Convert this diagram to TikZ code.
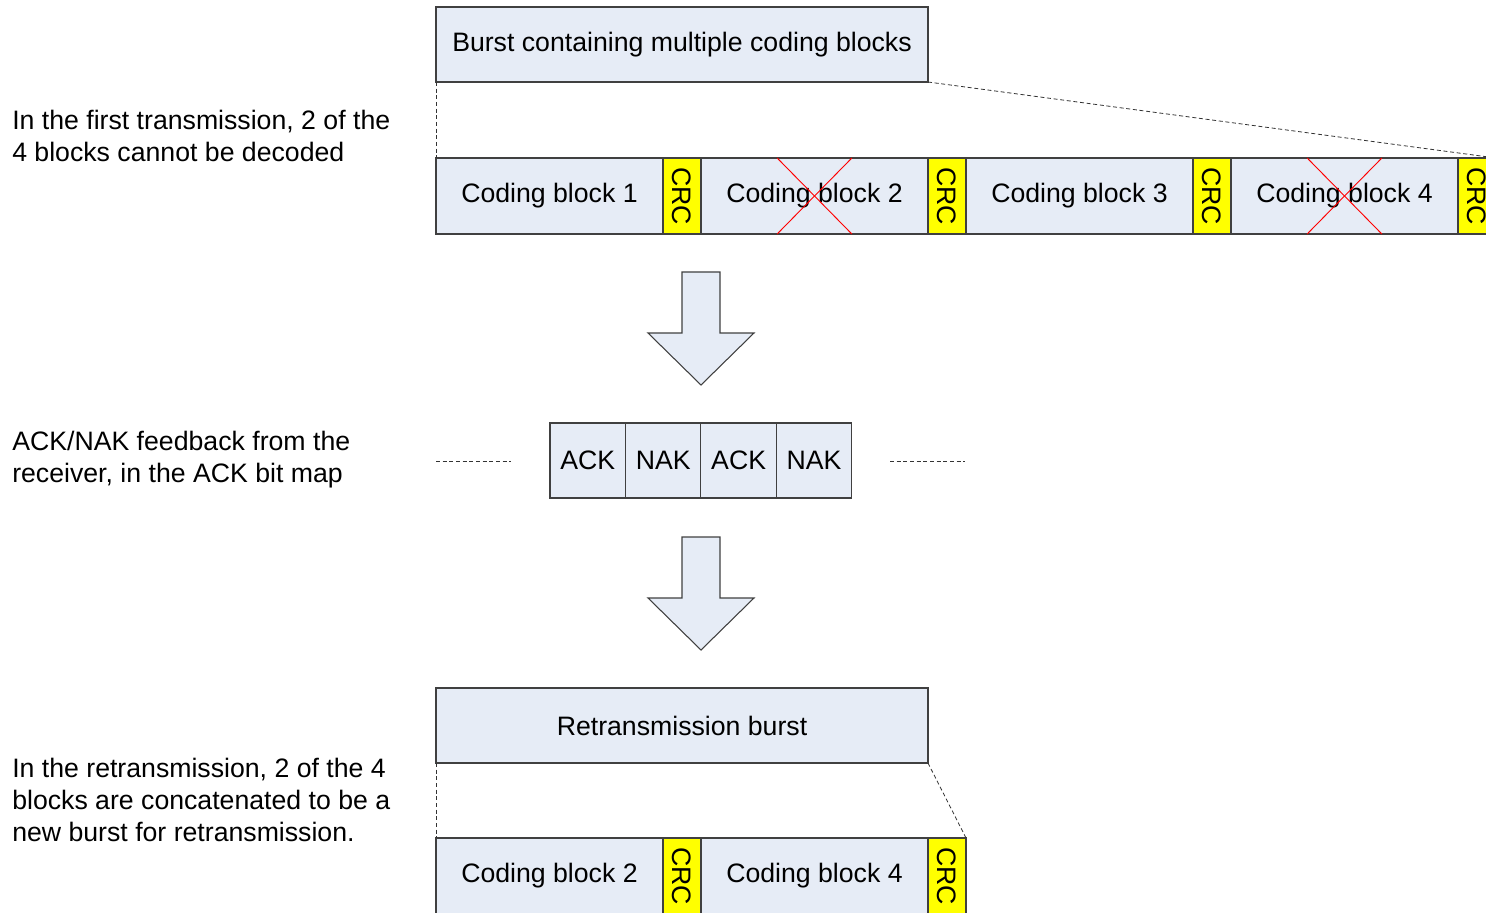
\documentclass[tikz,border=0pt]{standalone}
\usepackage{graphicx}
\usepackage{fontspec}
\setmainfont{Liberation Sans}
\usetikzlibrary{positioning, calc}
\definecolor{blockfill}{RGB}{230,236,246}
\definecolor{crcfill}{RGB}{255,255,0}

\begin{document}
\begin{tikzpicture}[x=0.75pt, y=-0.75pt,
    font=\fontsize{20}{24}\selectfont,
    boxnode/.style={rectangle, draw=black!75, fill=blockfill, line width=0.8pt, inner sep=0pt, outer sep=0pt},
    burstnode/.style={boxnode, minimum width=369pt, minimum height=56.25pt},
    blocknode/.style={boxnode, minimum width=170.25pt, minimum height=57pt},
    crcnode/.style={boxnode, fill=crcfill, minimum width=28.5pt, minimum height=57pt},
    acknode/.style={boxnode, minimum width=56.6pt, minimum height=56.25pt},
    guideline/.style={draw=black!80, line width=0.6pt, dash pattern=on 3pt off 2pt},
    crossline/.style={draw=red, line width=0.7pt},
    bigarrow/.style={draw=black!75, fill=blockfill, line width=0.8pt},
    notenode/.style={anchor=west, align=left, inner sep=0pt}
]
\useasboundingbox (0,0) rectangle (1486,913);

% first transmission
\node[burstnode] (burst) at (682,44.5) {Burst containing multiple coding blocks};
\node[blocknode] (blk1) at (549.5,196) {Coding block 1};
\node[crcnode, right=0pt of blk1] (crc1) {\rotatebox{-90}{CRC}};
\node[blocknode, right=0pt of crc1] (blk2) {Coding block 2};
\node[crcnode, right=0pt of blk2] (crc2) {\rotatebox{-90}{CRC}};
\node[blocknode, right=0pt of crc2] (blk3) {Coding block 3};
\node[crcnode, right=0pt of blk3] (crc3) {\rotatebox{-90}{CRC}};
\node[blocknode, right=0pt of crc3] (blk4) {Coding block 4};
\node[crcnode, right=0pt of blk4] (crc4) {\rotatebox{-90}{CRC}};

\draw[guideline] (burst.south west) -- (blk1.north west);
\draw[guideline] (burst.south east) -- (crc4.north east);

\draw[crossline] ($(blk2.north)+(-28pt,0)$) -- ($(blk2.south)+(28pt,0)$);
\draw[crossline] ($(blk2.north)+(28pt,0)$) -- ($(blk2.south)+(-28pt,0)$);
\draw[crossline] ($(blk4.north)+(-28pt,0)$) -- ($(blk4.south)+(28pt,0)$);
\draw[crossline] ($(blk4.north)+(28pt,0)$) -- ($(blk4.south)+(-28pt,0)$);

\node[notenode] (note1) at (12,136) {In the first transmission, 2 of the\\4 blocks cannot be decoded};

% feedback
\draw[bigarrow] (682,272) -- (720,272) -- (720,333) -- (754,333) -- (701,385) -- (648,333) -- (682,333) -- cycle;

\node[acknode] (ack1) at (587.7,460.5) {ACK};
\node[acknode, right=0pt of ack1] (nak1) {NAK};
\node[acknode, right=0pt of nak1] (ack2) {ACK};
\node[acknode, right=0pt of ack2] (nak2) {NAK};

\coordinate (lefta) at (436,461);
\coordinate (leftb) at (511,461);
\coordinate (righta) at (890,461);
\coordinate (rightb) at (965,461);
\draw[guideline] (lefta) -- (leftb);
\draw[guideline] (righta) -- (rightb);

\node[notenode] (note2) at (12,460) {ACK/NAK feedback from the\\receiver, in the ACK bit map};

% retransmission
\draw[bigarrow] (682,537) -- (720,537) -- (720,598) -- (754,598) -- (701,650) -- (648,598) -- (682,598) -- cycle;

\node[burstnode] (reburst) at (682,725.5) {Retransmission burst};
\node[blocknode] (rblk2) at (549.5,876) {Coding block 2};
\node[crcnode, right=0pt of rblk2] (rcrc2) {\rotatebox{-90}{CRC}};
\node[blocknode, right=0pt of rcrc2] (rblk4) {Coding block 4};
\node[crcnode, right=0pt of rblk4] (rcrc4) {\rotatebox{-90}{CRC}};

\draw[guideline] (reburst.south west) -- (rblk2.north west);
\draw[guideline] (reburst.south east) -- (rcrc4.north east);

\node[notenode] (note3) at (12,800) {In the retransmission, 2 of the 4\\blocks are concatenated to be a\\new burst for retransmission.};
\end{tikzpicture}
\end{document}
